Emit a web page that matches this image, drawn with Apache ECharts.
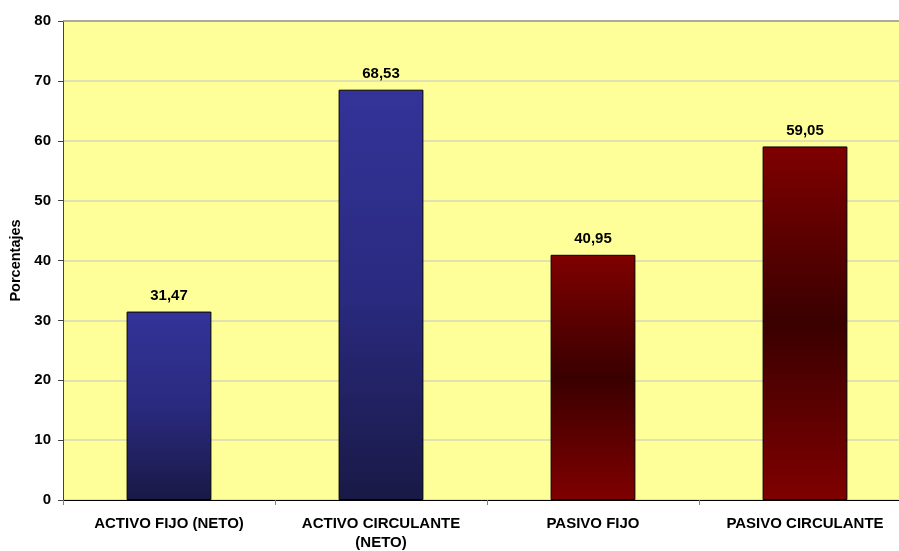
<!DOCTYPE html>
<html>
<head>
<meta charset="utf-8">
<script src="https://cdn.jsdelivr.net/npm/echarts@6/dist/echarts.min.js"></script>
<style>
  html, body { margin: 0; padding: 0; background: #ffffff; overflow: hidden; }
  #chart { width: 899px; height: 551px; }
</style>
</head>
<body>
<div id="chart"></div>
<script>
// Composition of the balance sheet, in percent
const categories = ['ACTIVO FIJO (NETO)', 'ACTIVO CIRCULANTE\n(NETO)', 'PASIVO FIJO', 'PASIVO CIRCULANTE'];
const values = [31.47, 68.53, 40.95, 59.05];
const kinds = ['activo', 'activo', 'pasivo', 'pasivo'];
const yTicks = { min: 0, max: 80, interval: 10 };

const fontFamily = '"Liberation Sans", Arial, sans-serif';

const fills = {
  activo: new echarts.graphic.LinearGradient(0, 0, 0, 1, [
    { offset: 0, color: '#333399' },
    { offset: 0.5, color: '#2a2a80' },
    { offset: 1, color: '#191946' }
  ]),
  pasivo: new echarts.graphic.LinearGradient(0, 0, 0, 1, [
    { offset: 0, color: '#800000' },
    { offset: 0.5, color: '#3a0000' },
    { offset: 1, color: '#800000' }
  ])
};

const chart = echarts.init(document.getElementById('chart'), null, { renderer: 'canvas' });

chart.setOption({
  animation: false,
  backgroundColor: '#ffffff',
  grid: {
    left: 63,
    width: 848,
    top: 21,
    bottom: 51,
    containLabel: false,
    outerBoundsMode: 'none',
    show: true,
    backgroundColor: '#ffff99',
    borderWidth: 0
  },
  xAxis: {
    type: 'category',
    data: categories,
    axisLine: { show: true, lineStyle: { color: '#000000', width: 1 } },
    axisTick: { show: true, alignWithLabel: false, length: 5, lineStyle: { color: '#808080' } },
    axisLabel: {
      color: '#000000',
      fontFamily: fontFamily,
      fontWeight: 'bold',
      fontSize: 15,
      margin: 14,
      lineHeight: 19,
      interval: 0
    }
  },
  yAxis: {
    type: 'value',
    min: yTicks.min,
    max: yTicks.max,
    interval: yTicks.interval,
    name: 'Porcentajes',
    nameLocation: 'middle',
    nameGap: 34,
    nameRotate: 90,
    nameTextStyle: {
      color: '#000000',
      fontFamily: fontFamily,
      fontWeight: 'bold',
      fontSize: 14.5
    },
    axisLine: { show: true, lineStyle: { color: '#404040', width: 1 } },
    axisTick: { show: true, length: 5, lineStyle: { color: '#404040' } },
    axisLabel: {
      color: '#000000',
      fontFamily: fontFamily,
      fontWeight: 'bold',
      fontSize: 15,
      margin: 12
    },
    splitLine: {
      show: true,
      lineStyle: { color: '#d9d9b8', width: 1.5 }
    }
  },
  series: [{
    type: 'bar',
    barWidth: '40%',
    data: values.map((v, i) => ({
      value: v,
      itemStyle: { color: fills[kinds[i]] }
    })),
    itemStyle: { borderColor: '#000000', borderWidth: 1 },
    label: {
      show: true,
      position: 'top',
      distance: 8,
      color: '#000000',
      fontFamily: fontFamily,
      fontWeight: 'bold',
      fontSize: 15,
      formatter: p => p.value.toFixed(2).replace('.', ',')
    }
  }],
  graphic: [{
    type: 'line',
    shape: { x1: 63, y1: 21, x2: 899, y2: 21 },
    style: { stroke: '#999999', lineWidth: 1.5 },
    z: 10
  }]
});
</script>
</body>
</html>
